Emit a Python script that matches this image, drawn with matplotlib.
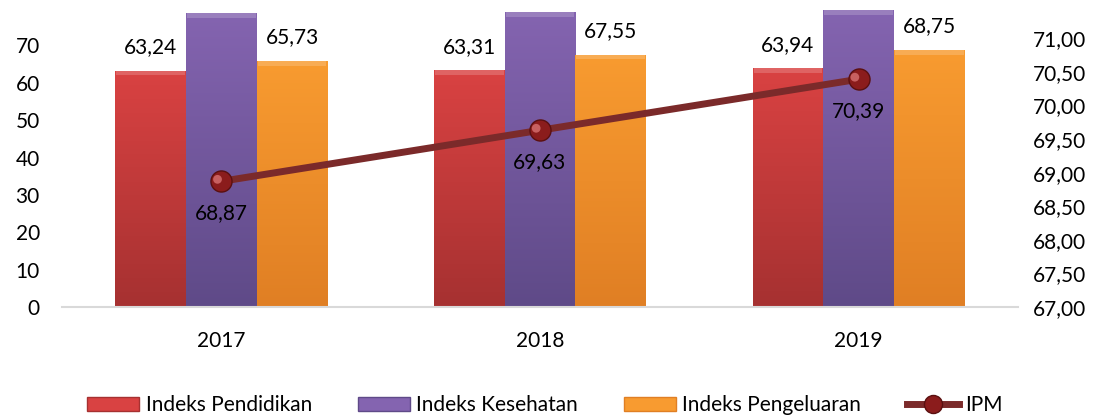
import numpy as np
import matplotlib.pyplot as plt
from matplotlib.colors import LinearSegmentedColormap
from matplotlib.lines import Line2D
from matplotlib.patches import Patch

plt.rcParams['font.family'] = ['Lato', 'DejaVu Sans']

# data
years = ["2017", "2018", "2019"]
pendidikan = [63.24, 63.31, 63.94]
kesehatan = [78.6, 78.9, 79.4]   # labels clipped in the original
pengeluaran = [65.73, 67.55, 68.75]
ipm = [68.87, 69.63, 70.39]

series = [
    ("Indeks Pendidikan", pendidikan, "#d94242", "#a63131"),
    ("Indeks Kesehatan", kesehatan, "#8464b0", "#5f4a88"),
    ("Indeks Pengeluaran", pengeluaran, "#f89b30", "#e07f24"),
]
FS = 15

fig = plt.figure(figsize=(11.01, 4.2), dpi=100)
ax = fig.add_axes([62 / 1101, 113 / 420, 956 / 1101, 299 / 420])
ax2 = ax.twinx()

x = np.arange(len(years))
w = 0.222
offsets = [-w, 0, w]

for (name, vals, c_top, c_bot), off in zip(series, offsets):
    bars = ax.bar(x + off, vals, w, color=c_top, edgecolor="none", zorder=2)
    cmap = LinearSegmentedColormap.from_list(name, [c_bot, c_top])
    grad = np.linspace(0, 1, 100).reshape(-1, 1)
    for b in bars:
        x0, y0 = b.get_x(), b.get_y()
        im = ax.imshow(grad, cmap=cmap, aspect="auto", origin="lower",
                       extent=[x0, x0 + b.get_width(), y0, y0 + b.get_height()], zorder=2)
        im.set_clip_path(b)
        # thin lighter cap for the bevel look
        ax.bar(x0 + b.get_width() / 2, 1.2, b.get_width() * 0.97, bottom=b.get_height() - 1.2,
               color="white", alpha=0.18, edgecolor="none", zorder=3)

# data labels
for i in x:
    ax.text(i - w, pendidikan[i] + 6.2, f"{pendidikan[i]:.2f}".replace(".", ","),
            ha="center", va="center", fontsize=FS)
    ax.text(i + w, pengeluaran[i] + 6.4, f"{pengeluaran[i]:.2f}".replace(".", ","),
            ha="center", va="center", fontsize=FS)

ax.set_xlim(-0.5, 2.5)
ax.set_ylim(0, 80)
ax.set_yticks(range(0, 80, 10))
ax.set_xticks(x)
ax.set_xticklabels(years)
ax.tick_params(axis="x", length=0, pad=17, labelsize=FS)
ax.tick_params(axis="y", length=0, pad=16, labelsize=FS)
for s in ["top", "right", "left"]:
    ax.spines[s].set_visible(False)
ax.spines["bottom"].set_color("#d9d9d9")
ax.spines["bottom"].set_linewidth(1.5)

# IPM line on right axis
ax2.plot(x, ipm, color="#7b2a2a", lw=5, zorder=5)
ax2.scatter(x, ipm, s=230, color="#8b1c1c", edgecolor="#5a1010", lw=1, zorder=6)
ax2.scatter(x - 0.012, np.array(ipm) + 0.03, s=40, color="#c86060", edgecolor="none", zorder=7)
for i in x:
    ax2.text(i, ipm[i] - 0.47, f"{ipm[i]:.2f}".replace(".", ","),
             ha="center", va="center", fontsize=FS, zorder=8)
ax2.set_ylim(67, 71.45)
ax2.set_yticks(np.arange(67, 71.01, 0.5))
ax2.set_yticklabels([f"{v:.2f}".replace(".", ",") for v in np.arange(67, 71.01, 0.5)])
ax2.tick_params(axis="y", length=0, pad=11, labelsize=FS)
for s in ax2.spines.values():
    s.set_visible(False)
ax2.set_zorder(ax.get_zorder() + 1)

handles = [Patch(facecolor=c, edgecolor=cb, label=n) for n, _, c, cb in series]
handles.append(Line2D([0], [0], color="#7b2a2a", lw=5, marker="o", markersize=13,
                      markerfacecolor="#8b1c1c", markeredgecolor="#5a1010", label="IPM"))
fig.legend(handles=handles, loc="center", bbox_to_anchor=(0.495, 0.035), ncol=4,
           frameon=False, fontsize=FS, handlelength=2.5, handleheight=0.7,
           handletextpad=0.3, columnspacing=2.2)

fig.savefig("out.png", dpi=100)
